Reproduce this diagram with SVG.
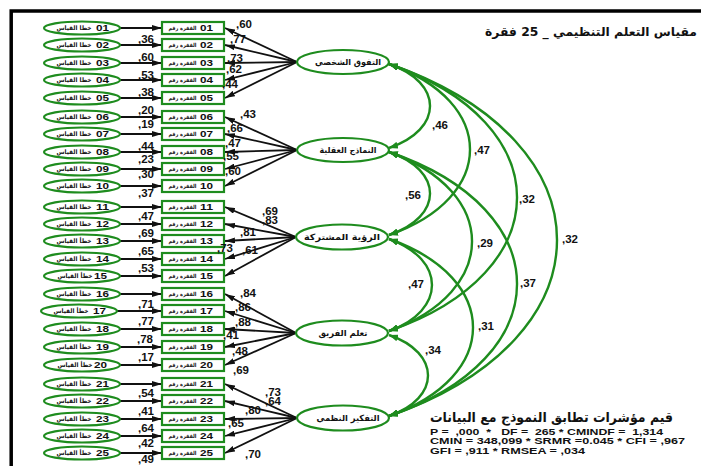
<svg xmlns="http://www.w3.org/2000/svg" width="701" height="466" viewBox="0 0 701 466">
<style>
.bg{fill:#ffffff}
.frame{stroke:#000;stroke-width:3.5;fill:none}
.err{fill:#fff;stroke:#1e8c1e;stroke-width:2.2}
.item{fill:#fff;stroke:#1e8c1e;stroke-width:2.2}
.fac{fill:#fff;stroke:#1e8c1e;stroke-width:2.2}
.ar{font-family:"DejaVu Sans",sans-serif;font-weight:bold;fill:#111;text-anchor:middle}
.ea{font-size:6.2px}
.ia{font-size:5.6px}
.dg{font-family:"Liberation Sans",Arial,sans-serif;font-weight:bold;font-size:9px;fill:#111}
.fa{font-size:8.5px}
.num{font-family:"Liberation Sans",Arial,sans-serif;font-weight:bold;font-size:11.5px;fill:#111}
.ln{stroke:#111;stroke-width:1.8;fill:none;marker-end:url(#ah)}
.cov{stroke:#1e8c1e;stroke-width:2.4;fill:none;marker-start:url(#gh);marker-end:url(#gh)}
.st{font-family:"Liberation Sans",Arial,sans-serif;font-weight:bold;font-size:9.5px;fill:#111}
</style>
<defs>
<marker id="ah" viewBox="0 0 10 6" refX="10" refY="3" markerWidth="10" markerHeight="6" markerUnits="userSpaceOnUse" orient="auto-start-reverse"><path d="M0,0 L10,3 L0,6 z" fill="#111"/></marker>
<marker id="gh" viewBox="0 0 9 7" refX="9" refY="3.5" markerWidth="9" markerHeight="7" markerUnits="userSpaceOnUse" orient="auto-start-reverse"><path d="M0,0 L9,3.5 L0,7 z" fill="#1e8c1e"/></marker>
</defs>
<rect class="bg" x="0" y="0" width="701" height="466"/>
<path class="frame" d="M9.5,11 H701 M11.2,9.5 V466"/>

<g id="connectors">
<path class="ln" d="M120,28 H162"/><path class="ln" d="M120,45 H162"/><path class="ln" d="M120,63 H162"/><path class="ln" d="M120,80 H162"/><path class="ln" d="M120,98 H162"/>
<path class="ln" d="M120,117 H162"/><path class="ln" d="M120,134 H162"/><path class="ln" d="M120,152 H162"/><path class="ln" d="M120,169 H162"/><path class="ln" d="M120,186 H162"/>
<path class="ln" d="M120,207 H162"/><path class="ln" d="M120,224 H162"/><path class="ln" d="M120,241 H162"/><path class="ln" d="M120,259 H162"/><path class="ln" d="M120,276 H162"/>
<path class="ln" d="M120,294 H162"/><path class="ln" d="M117,311 H162"/><path class="ln" d="M120,329 H162"/><path class="ln" d="M120,347 H162"/><path class="ln" d="M120,365 H162"/>
<path class="ln" d="M120,384 H162"/><path class="ln" d="M120,401 H162"/><path class="ln" d="M120,419 H162"/><path class="ln" d="M120,436 H162"/><path class="ln" d="M120,453 H162"/>
<path class="ln" d="M297,62 L225,28"/><path class="ln" d="M297,62 L225,45"/><path class="ln" d="M297,62 L225,63"/><path class="ln" d="M297,62 L225,80"/><path class="ln" d="M297,62 L225,98"/>
<path class="ln" d="M297,150 L225,117"/><path class="ln" d="M297,150 L225,134"/><path class="ln" d="M297,150 L225,152"/><path class="ln" d="M297,150 L225,169"/><path class="ln" d="M297,150 L225,186"/>
<path class="ln" d="M296,237 L225,207"/><path class="ln" d="M296,237 L225,224"/><path class="ln" d="M296,237 L225,241"/><path class="ln" d="M296,237 L225,259"/><path class="ln" d="M296,237 L225,276"/>
<path class="ln" d="M296,333 L225,294"/><path class="ln" d="M296,333 L225,311"/><path class="ln" d="M296,333 L225,329"/><path class="ln" d="M296,333 L225,347"/><path class="ln" d="M296,333 L225,365"/>
<path class="ln" d="M297,418 L225,384"/><path class="ln" d="M297,418 L225,401"/><path class="ln" d="M297,418 L225,419"/><path class="ln" d="M297,418 L225,436"/><path class="ln" d="M297,418 L225,453"/>
<path class="cov" d="M389,64 C443.7,82.5 443.7,129.5 389,148"/>
<path class="cov" d="M389,64 C497,101.6 497,197.4 389,235"/>
<path class="cov" d="M389,64 C559.7,122.7 559.7,272.3 389,331"/>
<path class="cov" d="M389,64 C613,141.4 613,338.6 389,416"/>
<path class="cov" d="M389,152 C443.7,170.3 443.7,216.7 389,235"/>
<path class="cov" d="M389,152 C499.7,191.4 499.7,291.6 389,331"/>
<path class="cov" d="M389,152 C559.7,210 559.7,358 389,416"/>
<path class="cov" d="M389,239 C446.3,259.2 446.3,310.8 389,331"/>
<path class="cov" d="M389,239 C501,278 501,377 389,416"/>
<path class="cov" d="M389,335 C441,352.8 441,398.2 389,416"/>
</g>

<g id="errors">
<g id="e01"><ellipse class="err" cx="82" cy="28" rx="38" ry="6.5"/><text class="ar ea" x="74" y="30.3" textLength="35" lengthAdjust="spacingAndGlyphs">خطا القياس</text><text class="dg" x="96" y="31.3" textLength="13" lengthAdjust="spacingAndGlyphs">01</text></g>
<g id="e02"><ellipse class="err" cx="82" cy="45" rx="38" ry="6.5"/><text class="ar ea" x="74" y="47.3" textLength="35" lengthAdjust="spacingAndGlyphs">خطا القياس</text><text class="dg" x="96" y="48.3" textLength="13" lengthAdjust="spacingAndGlyphs">02</text></g>
<g id="e03"><ellipse class="err" cx="82" cy="63" rx="38" ry="6.5"/><text class="ar ea" x="74" y="65.3" textLength="35" lengthAdjust="spacingAndGlyphs">خطا القياس</text><text class="dg" x="96" y="66.3" textLength="13" lengthAdjust="spacingAndGlyphs">03</text></g>
<g id="e04"><ellipse class="err" cx="82" cy="80" rx="38" ry="6.5"/><text class="ar ea" x="74" y="82.3" textLength="35" lengthAdjust="spacingAndGlyphs">خطا القياس</text><text class="dg" x="96" y="83.3" textLength="13" lengthAdjust="spacingAndGlyphs">04</text></g>
<g id="e05"><ellipse class="err" cx="82" cy="98" rx="38" ry="6.5"/><text class="ar ea" x="74" y="100.3" textLength="35" lengthAdjust="spacingAndGlyphs">خطا القياس</text><text class="dg" x="96" y="101.3" textLength="13" lengthAdjust="spacingAndGlyphs">05</text></g>
<g id="e06"><ellipse class="err" cx="82" cy="117" rx="38" ry="6.5"/><text class="ar ea" x="74" y="119.3" textLength="35" lengthAdjust="spacingAndGlyphs">خطا القياس</text><text class="dg" x="96" y="120.3" textLength="13" lengthAdjust="spacingAndGlyphs">06</text></g>
<g id="e07"><ellipse class="err" cx="82" cy="134" rx="38" ry="6.5"/><text class="ar ea" x="74" y="136.3" textLength="35" lengthAdjust="spacingAndGlyphs">خطا القياس</text><text class="dg" x="96" y="137.3" textLength="13" lengthAdjust="spacingAndGlyphs">07</text></g>
<g id="e08"><ellipse class="err" cx="82" cy="152" rx="38" ry="6.5"/><text class="ar ea" x="74" y="154.3" textLength="35" lengthAdjust="spacingAndGlyphs">خطا القياس</text><text class="dg" x="96" y="155.3" textLength="13" lengthAdjust="spacingAndGlyphs">08</text></g>
<g id="e09"><ellipse class="err" cx="82" cy="169" rx="38" ry="6.5"/><text class="ar ea" x="74" y="171.3" textLength="35" lengthAdjust="spacingAndGlyphs">خطا القياس</text><text class="dg" x="96" y="172.3" textLength="13" lengthAdjust="spacingAndGlyphs">09</text></g>
<g id="e10"><ellipse class="err" cx="82" cy="186" rx="38" ry="6.5"/><text class="ar ea" x="74" y="188.3" textLength="35" lengthAdjust="spacingAndGlyphs">خطا القياس</text><text class="dg" x="96" y="189.3" textLength="13" lengthAdjust="spacingAndGlyphs">10</text></g>
<g id="e11"><ellipse class="err" cx="82" cy="207" rx="38" ry="6.5"/><text class="ar ea" x="74" y="209.3" textLength="35" lengthAdjust="spacingAndGlyphs">خطا القياس</text><text class="dg" x="96" y="210.3" textLength="13" lengthAdjust="spacingAndGlyphs">11</text></g>
<g id="e12"><ellipse class="err" cx="82" cy="224" rx="38" ry="6.5"/><text class="ar ea" x="74" y="226.3" textLength="35" lengthAdjust="spacingAndGlyphs">خطا القياس</text><text class="dg" x="96" y="227.3" textLength="13" lengthAdjust="spacingAndGlyphs">12</text></g>
<g id="e13"><ellipse class="err" cx="82" cy="241" rx="38" ry="6.5"/><text class="ar ea" x="74" y="243.3" textLength="35" lengthAdjust="spacingAndGlyphs">خطأ القياس</text><text class="dg" x="96" y="244.3" textLength="13" lengthAdjust="spacingAndGlyphs">13</text></g>
<g id="e14"><ellipse class="err" cx="82" cy="259" rx="38" ry="6.5"/><text class="ar ea" x="74" y="261.3" textLength="35" lengthAdjust="spacingAndGlyphs">خطأ القياس</text><text class="dg" x="96" y="262.3" textLength="13" lengthAdjust="spacingAndGlyphs">14</text></g>
<g id="e15"><ellipse class="err" cx="82" cy="276" rx="38" ry="6.5"/><text class="ar ea" x="75" y="278.3" textLength="35" lengthAdjust="spacingAndGlyphs">خطأ القياس</text><text class="dg" x="94" y="279.3" textLength="13" lengthAdjust="spacingAndGlyphs">15</text></g>
<g id="e16"><ellipse class="err" cx="82" cy="294" rx="38" ry="6.5"/><text class="ar ea" x="74" y="296.3" textLength="35" lengthAdjust="spacingAndGlyphs">خطأ القياس</text><text class="dg" x="96" y="297.3" textLength="13" lengthAdjust="spacingAndGlyphs">16</text></g>
<g id="e17"><ellipse class="err" cx="79" cy="311" rx="38" ry="6.5"/><text class="ar ea" x="71" y="313.3" textLength="35" lengthAdjust="spacingAndGlyphs">خطأ القياس</text><text class="dg" x="93" y="314.3" textLength="13" lengthAdjust="spacingAndGlyphs">17</text></g>
<g id="e18"><ellipse class="err" cx="82" cy="329" rx="38" ry="6.5"/><text class="ar ea" x="74" y="331.3" textLength="35" lengthAdjust="spacingAndGlyphs">خطأ القياس</text><text class="dg" x="96" y="332.3" textLength="13" lengthAdjust="spacingAndGlyphs">18</text></g>
<g id="e19"><ellipse class="err" cx="82" cy="347" rx="38" ry="6.5"/><text class="ar ea" x="74" y="349.3" textLength="35" lengthAdjust="spacingAndGlyphs">خطأ القياس</text><text class="dg" x="96" y="350.3" textLength="13" lengthAdjust="spacingAndGlyphs">19</text></g>
<g id="e20"><ellipse class="err" cx="82" cy="365" rx="38" ry="6.5"/><text class="ar ea" x="75" y="367.3" textLength="35" lengthAdjust="spacingAndGlyphs">خطأ القياس</text><text class="dg" x="94" y="368.3" textLength="13" lengthAdjust="spacingAndGlyphs">20</text></g>
<g id="e21"><ellipse class="err" cx="82" cy="384" rx="38" ry="6.5"/><text class="ar ea" x="74" y="386.3" textLength="35" lengthAdjust="spacingAndGlyphs">خطأ القياس</text><text class="dg" x="96" y="387.3" textLength="13" lengthAdjust="spacingAndGlyphs">21</text></g>
<g id="e22"><ellipse class="err" cx="82" cy="401" rx="38" ry="6.5"/><text class="ar ea" x="74" y="403.3" textLength="35" lengthAdjust="spacingAndGlyphs">خطأ القياس</text><text class="dg" x="96" y="404.3" textLength="13" lengthAdjust="spacingAndGlyphs">22</text></g>
<g id="e23"><ellipse class="err" cx="82" cy="419" rx="38" ry="6.5"/><text class="ar ea" x="74" y="421.3" textLength="35" lengthAdjust="spacingAndGlyphs">خطأ القياس</text><text class="dg" x="96" y="422.3" textLength="13" lengthAdjust="spacingAndGlyphs">23</text></g>
<g id="e24"><ellipse class="err" cx="82" cy="436" rx="38" ry="6.5"/><text class="ar ea" x="74" y="438.3" textLength="35" lengthAdjust="spacingAndGlyphs">خطأ القياس</text><text class="dg" x="96" y="439.3" textLength="13" lengthAdjust="spacingAndGlyphs">24</text></g>
<g id="e25"><ellipse class="err" cx="82" cy="453" rx="38" ry="6.5"/><text class="ar ea" x="74" y="455.3" textLength="35" lengthAdjust="spacingAndGlyphs">خطأ القياس</text><text class="dg" x="96" y="456.3" textLength="13" lengthAdjust="spacingAndGlyphs">25</text></g>
</g>

<g id="items">
<g id="i01"><rect class="item" x="162" y="22" width="62" height="12"/><text class="ar ia" x="182.5" y="30.3" textLength="28" lengthAdjust="spacingAndGlyphs">الفقرة رقم</text><text class="dg" x="200" y="31.3" textLength="13" lengthAdjust="spacingAndGlyphs">01</text></g>
<g id="i02"><rect class="item" x="162" y="39" width="62" height="12"/><text class="ar ia" x="182.5" y="47.3" textLength="28" lengthAdjust="spacingAndGlyphs">الفقرة رقم</text><text class="dg" x="200" y="48.3" textLength="13" lengthAdjust="spacingAndGlyphs">02</text></g>
<g id="i03"><rect class="item" x="162" y="57" width="62" height="12"/><text class="ar ia" x="182.5" y="65.3" textLength="28" lengthAdjust="spacingAndGlyphs">الفقرة رقم</text><text class="dg" x="200" y="66.3" textLength="13" lengthAdjust="spacingAndGlyphs">03</text></g>
<g id="i04"><rect class="item" x="162" y="74" width="62" height="12"/><text class="ar ia" x="182.5" y="82.3" textLength="28" lengthAdjust="spacingAndGlyphs">الفقرة رقم</text><text class="dg" x="200" y="83.3" textLength="13" lengthAdjust="spacingAndGlyphs">04</text></g>
<g id="i05"><rect class="item" x="162" y="92" width="62" height="12"/><text class="ar ia" x="182.5" y="100.3" textLength="28" lengthAdjust="spacingAndGlyphs">الفقرة رقم</text><text class="dg" x="200" y="101.3" textLength="13" lengthAdjust="spacingAndGlyphs">05</text></g>
<g id="i06"><rect class="item" x="162" y="111" width="62" height="12"/><text class="ar ia" x="182.5" y="119.3" textLength="28" lengthAdjust="spacingAndGlyphs">الفقرة رقم</text><text class="dg" x="200" y="120.3" textLength="13" lengthAdjust="spacingAndGlyphs">06</text></g>
<g id="i07"><rect class="item" x="162" y="128" width="62" height="12"/><text class="ar ia" x="182.5" y="136.3" textLength="28" lengthAdjust="spacingAndGlyphs">الفقرة رقم</text><text class="dg" x="200" y="137.3" textLength="13" lengthAdjust="spacingAndGlyphs">07</text></g>
<g id="i08"><rect class="item" x="162" y="146" width="62" height="12"/><text class="ar ia" x="182.5" y="154.3" textLength="28" lengthAdjust="spacingAndGlyphs">الفقرة رقم</text><text class="dg" x="200" y="155.3" textLength="13" lengthAdjust="spacingAndGlyphs">08</text></g>
<g id="i09"><rect class="item" x="162" y="163" width="62" height="12"/><text class="ar ia" x="182.5" y="171.3" textLength="28" lengthAdjust="spacingAndGlyphs">الفقرة رقم</text><text class="dg" x="200" y="172.3" textLength="13" lengthAdjust="spacingAndGlyphs">09</text></g>
<g id="i10"><rect class="item" x="162" y="180" width="62" height="12"/><text class="ar ia" x="182.5" y="188.3" textLength="28" lengthAdjust="spacingAndGlyphs">الفقرة رقم</text><text class="dg" x="200" y="189.3" textLength="13" lengthAdjust="spacingAndGlyphs">10</text></g>
<g id="i11"><rect class="item" x="162" y="201" width="62" height="12"/><text class="ar ia" x="182.5" y="209.3" textLength="28" lengthAdjust="spacingAndGlyphs">الفقرة رقم</text><text class="dg" x="200" y="210.3" textLength="13" lengthAdjust="spacingAndGlyphs">11</text></g>
<g id="i12"><rect class="item" x="162" y="218" width="62" height="12"/><text class="ar ia" x="182.5" y="226.3" textLength="28" lengthAdjust="spacingAndGlyphs">الفقرة رقم</text><text class="dg" x="200" y="227.3" textLength="13" lengthAdjust="spacingAndGlyphs">12</text></g>
<g id="i13"><rect class="item" x="162" y="235" width="62" height="12"/><text class="ar ia" x="182.5" y="243.3" textLength="28" lengthAdjust="spacingAndGlyphs">الفقرة رقم</text><text class="dg" x="200" y="244.3" textLength="13" lengthAdjust="spacingAndGlyphs">13</text></g>
<g id="i14"><rect class="item" x="162" y="253" width="62" height="12"/><text class="ar ia" x="182.5" y="261.3" textLength="28" lengthAdjust="spacingAndGlyphs">الفقرة رقم</text><text class="dg" x="200" y="262.3" textLength="13" lengthAdjust="spacingAndGlyphs">14</text></g>
<g id="i15"><rect class="item" x="162" y="270" width="62" height="12"/><text class="ar ia" x="182.5" y="278.3" textLength="28" lengthAdjust="spacingAndGlyphs">الفقرة رقم</text><text class="dg" x="200" y="279.3" textLength="13" lengthAdjust="spacingAndGlyphs">15</text></g>
<g id="i16"><rect class="item" x="162" y="288" width="62" height="12"/><text class="ar ia" x="182.5" y="296.3" textLength="28" lengthAdjust="spacingAndGlyphs">الفقرة رقم</text><text class="dg" x="200" y="297.3" textLength="13" lengthAdjust="spacingAndGlyphs">16</text></g>
<g id="i17"><rect class="item" x="162" y="305" width="62" height="12"/><text class="ar ia" x="182.5" y="313.3" textLength="28" lengthAdjust="spacingAndGlyphs">الفقرة رقم</text><text class="dg" x="200" y="314.3" textLength="13" lengthAdjust="spacingAndGlyphs">17</text></g>
<g id="i18"><rect class="item" x="162" y="323" width="62" height="12"/><text class="ar ia" x="182.5" y="331.3" textLength="28" lengthAdjust="spacingAndGlyphs">الفقرة رقم</text><text class="dg" x="200" y="332.3" textLength="13" lengthAdjust="spacingAndGlyphs">18</text></g>
<g id="i19"><rect class="item" x="162" y="341" width="62" height="12"/><text class="ar ia" x="182.5" y="349.3" textLength="28" lengthAdjust="spacingAndGlyphs">الفقرة رقم</text><text class="dg" x="200" y="350.3" textLength="13" lengthAdjust="spacingAndGlyphs">19</text></g>
<g id="i20"><rect class="item" x="162" y="359" width="62" height="12"/><text class="ar ia" x="182.5" y="367.3" textLength="28" lengthAdjust="spacingAndGlyphs">الفقرة رقم</text><text class="dg" x="200" y="368.3" textLength="13" lengthAdjust="spacingAndGlyphs">20</text></g>
<g id="i21"><rect class="item" x="162" y="378" width="62" height="12"/><text class="ar ia" x="182.5" y="386.3" textLength="28" lengthAdjust="spacingAndGlyphs">الفقرة رقم</text><text class="dg" x="200" y="387.3" textLength="13" lengthAdjust="spacingAndGlyphs">21</text></g>
<g id="i22"><rect class="item" x="162" y="395" width="62" height="12"/><text class="ar ia" x="182.5" y="403.3" textLength="28" lengthAdjust="spacingAndGlyphs">الفقرة رقم</text><text class="dg" x="200" y="404.3" textLength="13" lengthAdjust="spacingAndGlyphs">22</text></g>
<g id="i23"><rect class="item" x="162" y="413" width="62" height="12"/><text class="ar ia" x="182.5" y="421.3" textLength="28" lengthAdjust="spacingAndGlyphs">الفقرة رقم</text><text class="dg" x="200" y="422.3" textLength="13" lengthAdjust="spacingAndGlyphs">23</text></g>
<g id="i24"><rect class="item" x="162" y="430" width="62" height="12"/><text class="ar ia" x="182.5" y="438.3" textLength="28" lengthAdjust="spacingAndGlyphs">الفقرة رقم</text><text class="dg" x="200" y="439.3" textLength="13" lengthAdjust="spacingAndGlyphs">24</text></g>
<g id="i25"><rect class="item" x="162" y="447" width="62" height="12"/><text class="ar ia" x="182.5" y="455.3" textLength="28" lengthAdjust="spacingAndGlyphs">الفقرة رقم</text><text class="dg" x="200" y="456.3" textLength="13" lengthAdjust="spacingAndGlyphs">25</text></g>
</g>

<g id="factors">
<g id="f1"><ellipse class="fac" cx="343" cy="62" rx="46" ry="12"/><text class="ar fa" x="348" y="65.3" textLength="66" lengthAdjust="spacingAndGlyphs">التفوق الشخصي</text></g>
<g id="f2"><ellipse class="fac" cx="343" cy="150" rx="46" ry="12"/><text class="ar fa" x="348" y="153.3" textLength="57" lengthAdjust="spacingAndGlyphs">النماذج العقلية</text></g>
<g id="f3"><ellipse class="fac" cx="342" cy="237" rx="46" ry="12.5"/><text class="ar fa" x="342" y="240.3" textLength="76" lengthAdjust="spacingAndGlyphs">الرؤية المشتركة</text></g>
<g id="f4"><ellipse class="fac" cx="342" cy="333" rx="46" ry="12.5"/><text class="ar fa" x="343" y="336.3" textLength="49" lengthAdjust="spacingAndGlyphs">تعلم الفريق</text></g>
<g id="f5"><ellipse class="fac" cx="343" cy="418" rx="46" ry="12.5"/><text class="ar fa" x="348" y="421.3" textLength="63" lengthAdjust="spacingAndGlyphs">التفكير النظمي</text></g>
</g>

<g id="r2-labels" class="num">
<text x="138" y="43">,36</text><text x="138" y="61">,60</text><text x="138" y="79">,53</text><text x="138" y="96">,38</text><text x="138" y="114">,20</text>
<text x="138" y="128">,19</text><text x="138" y="150">,44</text><text x="138" y="163">,23</text><text x="138" y="178">,30</text><text x="138" y="197">,37</text>
<text x="138" y="220">,47</text><text x="138" y="237">,69</text><text x="138" y="255">,65</text><text x="138" y="272">,53</text>
<text x="138" y="308">,71</text><text x="138" y="325">,77</text><text x="137" y="343">,78</text><text x="138" y="361">,17</text>
<text x="138" y="397">,54</text><text x="138" y="415">,41</text><text x="138" y="432">,64</text><text x="138" y="447">,42</text><text x="138" y="463">,49</text>
</g>

<g id="loading-labels" class="num">
<text x="236" y="28">,60</text><text x="230" y="43">,77</text><text x="227" y="62">,73</text><text x="226" y="73">,62</text><text x="222" y="88">,44</text>
<text x="240" y="118">,43</text><text x="227" y="132">,66</text><text x="225" y="147">,47</text><text x="223" y="160">,55</text><text x="225" y="175">,60</text>
<text x="262" y="215">,69</text><text x="262" y="224">,83</text><text x="240" y="236">,81</text><text x="217" y="252">,73</text><text x="242" y="254">,61</text>
<text x="240" y="297">,84</text><text x="235" y="311">,86</text><text x="235" y="326">,88</text><text x="223" y="339">,41</text><text x="232" y="355">,48</text><text x="233" y="374">,69</text>
<text x="265" y="396">,73</text><text x="265" y="405">,64</text><text x="245" y="414">,80</text><text x="228" y="427">,65</text><text x="245" y="458">,70</text>
</g>

<g id="cov-labels" class="num">
<text x="432" y="129">,46</text><text x="474" y="154">,47</text><text x="519" y="203">,32</text><text x="562" y="243">,32</text>
<text x="405" y="199">,56</text><text x="477" y="247">,29</text><text x="520" y="287">,37</text>
<text x="408" y="288">,47</text><text x="478" y="330">,31</text><text x="425" y="354">,34</text>
</g>

<g id="title"><text class="ar" x="591" y="36" font-size="12" textLength="212" lengthAdjust="spacingAndGlyphs">مقياس التعلم التنظيمي _ 25 فقرة</text></g>

<g id="fit-stats">
<text class="ar" x="551.5" y="422" font-size="13.5" textLength="243" lengthAdjust="spacingAndGlyphs">قيم مؤشرات تطابق النموذج مع البيانات</text>
<text class="st" x="430" y="434.5" xml:space="preserve" textLength="233" lengthAdjust="spacingAndGlyphs">P =  ,000  *   DF =  265 * CMINDF =  1,314</text>
<text class="st" x="430" y="444" textLength="255" lengthAdjust="spacingAndGlyphs">CMIN = 348,099 * SRMR =0.045 * CFI = ,967</text>
<text class="st" x="430" y="453.5" textLength="155" lengthAdjust="spacingAndGlyphs">GFI = ,911 * RMSEA = ,034</text>
</g>
</svg>
